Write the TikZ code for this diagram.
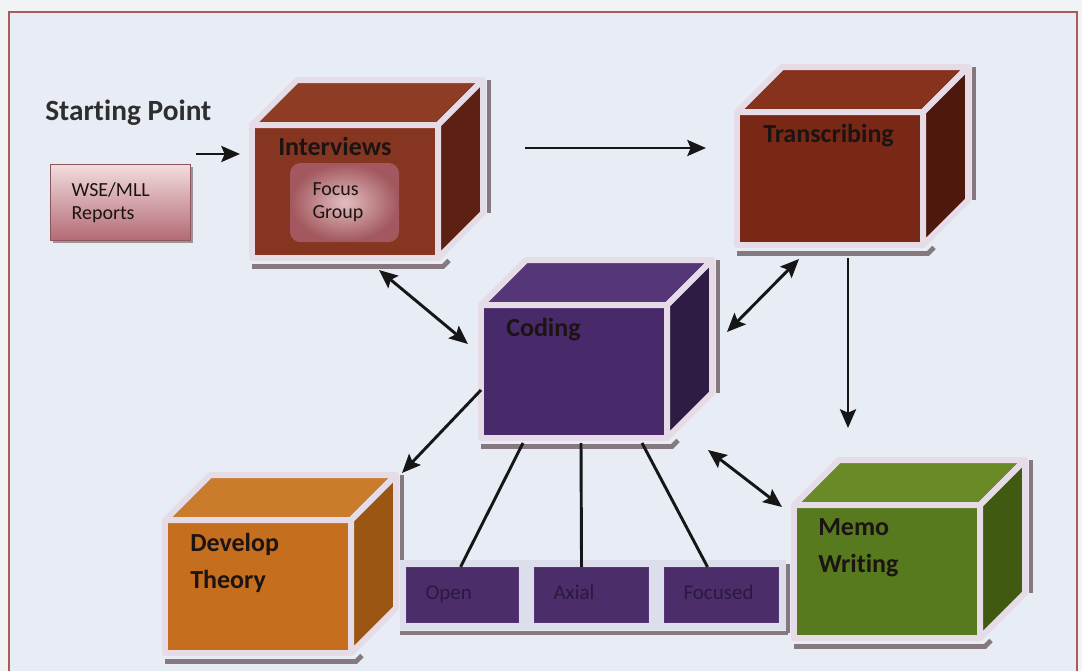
\documentclass[tikz,border=0pt]{standalone}
\usepackage{fontspec}
\setmainfont{Carlito}[Ligatures=NoCommon]
\usetikzlibrary{arrows.meta,calc}

\definecolor{pagebg}{HTML}{F2F3F5}
\definecolor{panelbg}{HTML}{E8EDF5}
\definecolor{framecol}{HTML}{A85D5A}
\definecolor{edgecol}{HTML}{E6DCE8}
\definecolor{shadowcol}{HTML}{85787F}
\definecolor{inkcol}{HTML}{161616}
\definecolor{labelcol}{HTML}{1C1412}
% cube colours: front / top / side
\definecolor{rustF}{HTML}{863520}\definecolor{rustT}{HTML}{8E3D24}\definecolor{rustS}{HTML}{5C2112}
\definecolor{rustdF}{HTML}{7A2816}\definecolor{rustdT}{HTML}{86321C}\definecolor{rustdS}{HTML}{4E180C}
\definecolor{purpF}{HTML}{48296A}\definecolor{purpT}{HTML}{553677}\definecolor{purpS}{HTML}{2F1C45}
\definecolor{orgF}{HTML}{C46E1E}\definecolor{orgT}{HTML}{CB7B2C}\definecolor{orgS}{HTML}{9C5614}
\definecolor{grnF}{HTML}{587A1E}\definecolor{grnT}{HTML}{6A8A28}\definecolor{grnS}{HTML}{405A12}
\definecolor{pinkL}{HTML}{F2DCDE}\definecolor{pinkD}{HTML}{B36A74}
\definecolor{focusL}{HTML}{E2BEC0}\definecolor{focusD}{HTML}{A2585E}
\definecolor{subbox}{HTML}{4B2D6A}\definecolor{subtext}{HTML}{2A1A3C}

% A box drawn as a cube: front face is the named node, top and side faces follow its corners
\newcommand{\cubeat}[5]{%
  \node[cubefront, fill=#3] (#1) at (#2) {};
  \draw[cubeedge, fill=#4] (#1.north west) -- ++(45,-45)
     -- ($(#1.north east)+(45,-45)$) -- (#1.north east) -- cycle;
  \draw[cubeedge, fill=#5] (#1.north east) -- ++(45,-45) -- ++(0,133)
     -- (#1.south east) -- cycle;
  \draw[cubeshadow] ($(#1.south west)+(0,8.5)$) -- ($(#1.south east)+(5,8.5)$) -- ++(6,-6);
  \draw[cubeshadow] ($(#1.north east)+(51,-45)$) -- ($(#1.south east)+(51,-45)$);
}

\begin{document}
\begin{tikzpicture}[x=0.75pt,y=-0.75pt,
  cubefront/.style={anchor=north west, minimum width=139.5pt, minimum height=99.75pt,
    inner sep=0pt, outer sep=0pt, draw=edgecol, line width=4.5pt, line join=round},
  cubeedge/.style={draw=edgecol, line width=4.5pt, line join=round},
  cubeshadow/.style={draw=shadowcol, line width=3.5pt},
  cubelabel/.style={anchor=base west, inner sep=0pt, text=labelcol,
    font=\fontsize{19.5}{27.75}\bfseries},
  cubelabels/.style={anchor=north west, inner sep=0pt, text=labelcol, align=left,
    font=\fontsize{19.5}{27.75}\bfseries},
  pinkbox/.style={draw=#1, line width=0.8pt, align=left, text=labelcol,
    font=\fontsize{15}{17.25}\selectfont},
  subcode/.style={anchor=north west, fill=subbox, draw=purpT, line width=0.8pt,
    minimum height=41.25pt, inner xsep=14.25pt, align=left, text=subtext,
    font=\fontsize{15.75}{16}\selectfont},
  tip/.tip={Stealth[length=14pt,width=12pt,inset=2.5pt]},
  conn/.style={draw=inkcol, line width=2.2pt, -tip},
  conn2/.style={draw=inkcol, line width=2.2pt, tip-tip},
  link/.style={draw=inkcol, line width=2.2pt}
]
\useasboundingbox (0,0) rectangle (1082,671);
\fill[pagebg] (0,0) rectangle (1082,671);
\filldraw[fill=panelbg, draw=framecol, line width=1.5pt] (9,12) rectangle (1077,680);

% heading and source box
\node[anchor=base west, inner sep=0pt, text=black!82, font=\fontsize{22}{26}\bfseries]
  (start) at (45,120) {Starting Point};
\fill[shadowcol!80] (53,167) rectangle (193,243);
\node[pinkbox=pinkD!80!black, anchor=north west, top color=pinkL, bottom color=pinkD,
  minimum height=57pt, text width=73.5pt, inner xsep=15.75pt]
  (wse) at (50,164) {WSE/MLL\\Reports};

% cubes
\cubeat{int}{252,125}{rustF}{rustT}{rustS}
\cubeat{tra}{737,112}{rustdF}{rustdT}{rustdS}
\cubeat{cod}{481,305}{purpF}{purpT}{purpS}
\cubeat{dev}{165,520}{orgF}{orgT}{orgS}
\cubeat{memo}{794,505}{grnF}{grnT}{grnS}

\node[cubelabel] (int-t) at ($(int.north west)+(26,30)$) {Interviews};
\node[cubelabel] (tra-t) at ($(tra.north west)+(26,30)$) {Transcribing};
\node[cubelabel] (cod-t) at ($(cod.north west)+(25,31)$) {Coding};
\node[cubelabels] (dev-t) at ($(dev.north west)+(25,13)$) {Develop\\Theory};
\node[cubelabels] (memo-t) at ($(memo.north west)+(24,13)$) {Memo\\Writing};

% focus group inside the interviews cube
\node[pinkbox=focusD, anchor=north west, rounded corners=7.5pt, inner color=focusL,
  outer color=focusD, minimum height=58.5pt, text width=48pt, inner xsep=16.5pt]
  (focus) at (290,163) {Focus\\Group};

% coding types
\fill[panelbg!92!purpT] (400,560) rectangle (786,630);
\draw[cubeshadow, line width=2.5pt] (400,633) -- (788,633) (788,564) -- (788,633);
\node[subcode, minimum width=84pt, text width=55.5pt] (open) at (406,567) {\strut Open};
\node[subcode, minimum width=85.5pt, text width=57pt] (axial) at (534,567) {\strut Axial};
\node[subcode, minimum width=85.5pt, text width=57pt] (foc) at (664,567) {\strut Focused};

% connectors
\draw[conn] ($(wse.north east)+(5,-10)$) -- ($(int.north west)+(-12,29)$);
\draw[conn] ($(int.north east)+(87,23)$) -- ($(tra.north west)+(-31,36)$);
\draw[conn] ($(tra.south)+(18,13)$) -- ($(memo.north)+(-39,-77)$);
\draw[conn2] ($(int.south)+(34,12)$) -- ($(cod.west)+(-13,-27.5)$);
\draw[conn2] ($(tra.south west)+(62,14)$) -- ($(cod.east)+(60,-39.5)$);
\draw[conn] ($(cod.west)+(0,18.5)$) -- ($(dev.north east)+(51,-47)$);
\draw[conn2] ($(cod.south east)+(41,12)$) -- ($(memo.north west)+(-12,2)$);
\draw[link] ($(cod.south)+(-51,5)$) -- ($(open.north)+(-2,0)$);
\draw[link] ($(cod.south)+(7,5)$) -- ($(axial.north)+(-10,0)$);
\draw[link] ($(cod.south)+(68,5)$) -- ($(foc.north)+(-14,0)$);
\end{tikzpicture}
\end{document}
